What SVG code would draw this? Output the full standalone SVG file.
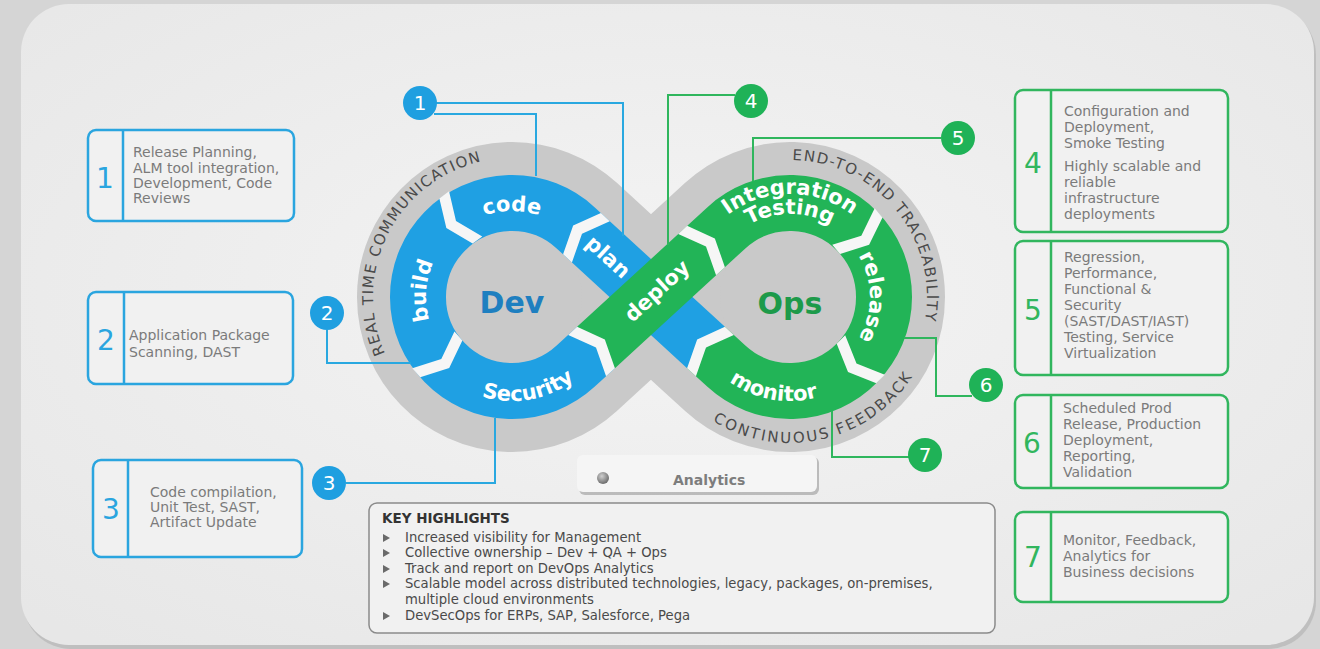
<svg xmlns="http://www.w3.org/2000/svg" width="1320" height="649" viewBox="0 0 1320 649">
<defs>
<style>
.bxb{fill:#f1f1f1;stroke:#2aa5df;stroke-width:2.5}
.bxg{fill:#f1f1f1;stroke:#31b65e;stroke-width:2.5}
.dvb{stroke:#2aa5df;stroke-width:2.5}
.dvg{stroke:#31b65e;stroke-width:2.5}
.nb{font-family:"DejaVu Sans",sans-serif;font-size:28px;fill:#2aa5df;text-anchor:middle}
.ng{font-family:"DejaVu Sans",sans-serif;font-size:28px;fill:#31b65e;text-anchor:middle}
.bt{font-family:"DejaVu Sans",sans-serif;font-size:14px;fill:#7b7b7b}
.bdb{fill:#1f9fe0}
.bdg{fill:#1fb257}
.bn{font-family:"DejaVu Sans",sans-serif;font-size:20px;fill:#fff;text-anchor:middle}
.cb{fill:none;stroke:#29a8e0;stroke-width:2}
.cg{fill:none;stroke:#2fb65d;stroke-width:2}
.rl{font-family:"DejaVu Sans",sans-serif;font-weight:bold;fill:#fff;font-size:21px;text-anchor:middle}
.ot{font-family:"DejaVu Sans",sans-serif;font-size:15px;fill:#4a4a4a}
.chev{fill:#f6f6f6}
.hl{font-family:"DejaVu Sans",sans-serif;font-size:13.2px;fill:#4a4a4a}
</style>
<radialGradient id="panel" cx="50%" cy="45%" r="70%">
<stop offset="0" stop-color="#f4f4f4"/><stop offset="1" stop-color="#e7e7e7"/>
</radialGradient>
<radialGradient id="ball" cx="40%" cy="35%" r="65%">
<stop offset="0" stop-color="#cfcfcf"/><stop offset="1" stop-color="#6d6d6d"/>
</radialGradient>
<path id="p-code" d="M446.1,241.7 A86,86 0 0 1 577.9,241.7"/>
<path id="p-build" d="M456.7,362.9 A86,86 0 0 1 456.7,231.1"/>
<path id="p-sec" d="M432.3,363.9 A104,104 0 0 0 609.7,332.6"/>
<path id="p-rtc" d="M385.0,353.5 A139,139 0 0 1 480.7,161.6"/>
<path id="p-int" d="M700.8,245.5 A103,103 0 0 1 879.2,245.5"/>
<path id="p-test" d="M718.1,255.5 A83,83 0 0 1 861.9,255.5"/>
<path id="p-rel" d="M841.4,235.7 A80,80 0 0 1 841.4,358.3"/>
<path id="p-mon" d="M692.3,332.6 A104,104 0 0 0 869.7,363.9"/>
<path id="p-e2e" d="M792.4,160 A137,137 0 0 1 924.9,320.8"/>
<path id="p-cf" d="M712.6,420.8 A146,146 0 0 0 912.4,376.5"/>
</defs>

<rect width="1320" height="649" fill="#d5d5d5"/>
<rect x="23" y="7" width="1293" height="642" rx="48" fill="#a9a9a9" opacity="0.5"/>
<rect x="21" y="4" width="1293" height="641" rx="48" fill="url(#panel)"/>

<g id="infinity">
<path d="M706,347.5 L575.6,227.8 A94,94 0 1 0 575.6,366.2 L726.4,227.8 A94,94 0 1 1 726.4,366.2 Z" fill="none" stroke="#c9c9c9" stroke-width="122" stroke-linejoin="round"/>
<circle cx="512" cy="297" r="70" fill="#c9c9c9"/>
<circle cx="790" cy="297" r="70" fill="#c9c9c9"/>
<path d="M706,347.5 L575.6,227.8 A94,94 0 1 0 575.6,366.2 L596,347.5" fill="none" stroke="#1fa0e3" stroke-width="56"/>
<path d="M596,347.5 L726.4,227.8 A94,94 0 1 1 726.4,366.2 L706,347.5" fill="none" stroke="#22b457" stroke-width="56"/>
<g id="chevrons">
<polygon class="chev" points="-12,-28 0,-28 12,0 0,28 -12,28 0,0" transform="translate(582,233.7) rotate(-137.5)"/>
<polygon class="chev" points="-12,-28 0,-28 12,0 0,28 -12,28 0,0" transform="translate(456,221) rotate(143.6)"/>
<polygon class="chev" points="-12,-28 0,-28 12,0 0,28 -12,28 0,0" transform="translate(441.3,358.9) rotate(48.8)"/>
<polygon class="chev" points="-12,-28 0,-28 12,0 0,28 -12,28 0,0" transform="translate(596,347.5) rotate(-42.5)"/>
<polygon class="chev" points="-12,-28 0,-28 12,0 0,28 -12,28 0,0" transform="translate(706,246.5) rotate(-42.5)"/>
<polygon class="chev" points="-12,-28 0,-28 12,0 0,28 -12,28 0,0" transform="translate(861.3,235.7) rotate(49.3)"/>
<polygon class="chev" points="-12,-28 0,-28 12,0 0,28 -12,28 0,0" transform="translate(856.5,363.5) rotate(135)"/>
<polygon class="chev" points="-12,-28 0,-28 12,0 0,28 -12,28 0,0" transform="translate(706,347.5) rotate(-137.5)"/>
</g>
<text class="rl" font-size="22"><textPath href="#p-code" startOffset="50%">code</textPath></text>
<text class="rl"><textPath href="#p-build" startOffset="54%">build</textPath></text>
<text class="rl"><textPath href="#p-sec" startOffset="50%">Security</textPath></text>
<text class="rl" transform="translate(608,257) rotate(42.5)" x="0" y="7" font-size="22">plan</text>
<text class="rl" transform="translate(657,291) rotate(-42.5)" x="0" y="7" fill="#bfe9cc">deploy</text>
<text class="rl" font-size="16"><textPath href="#p-int" startOffset="50%">Integration</textPath></text>
<text class="rl" font-size="16"><textPath href="#p-test" startOffset="50%">Testing</textPath></text>
<text class="rl"><textPath href="#p-rel" startOffset="50%">release</textPath></text>
<text class="rl"><textPath href="#p-mon" startOffset="50%">monitor</textPath></text>
<text class="ot"><textPath href="#p-rtc" textLength="245" lengthAdjust="spacing">REAL TIME COMMUNICATION</textPath></text>
<text class="ot"><textPath href="#p-e2e" textLength="236" lengthAdjust="spacing">END-TO-END TRACEABILITY</textPath></text>
<text class="ot"><textPath href="#p-cf" textLength="226" lengthAdjust="spacing">CONTINUOUS FEEDBACK</textPath></text>
<text x="512" y="313" font-family="DejaVu Sans,sans-serif" font-weight="bold" font-size="30" fill="#1e7fc0" text-anchor="middle">Dev</text>
<text x="790" y="314" font-family="DejaVu Sans,sans-serif" font-weight="bold" font-size="30" fill="#1d9a4a" text-anchor="middle">Ops</text>
</g>

<g id="connectors">
<polyline class="cb" points="436,103 623,103 623,236"/>
<polyline class="cb" points="434,114 536,114 536,176"/>
<polyline class="cb" points="327,330 327,363 411,363"/>
<polyline class="cb" points="346,483 495,483 495,418"/>
<polyline class="cg" points="735,95 668,95 668,245"/>
<polyline class="cg" points="941,138 753,138 753,181"/>
<polyline class="cg" points="904,338 936,338 936,396 972,396"/>
<polyline class="cg" points="832,411 832,457 909,457"/>
</g>

<g id="badge1"><circle class="bdb" cx="420" cy="103" r="17"/><text class="bn" x="420" y="110">1</text></g>
<g id="badge2"><circle class="bdb" cx="327" cy="313" r="17"/><text class="bn" x="327" y="320">2</text></g>
<g id="badge3"><circle class="bdb" cx="329" cy="483" r="17"/><text class="bn" x="329" y="490">3</text></g>
<g id="badge4"><circle class="bdg" cx="751" cy="101" r="17"/><text class="bn" x="751" y="108">4</text></g>
<g id="badge5"><circle class="bdg" cx="958" cy="138" r="17"/><text class="bn" x="958" y="145">5</text></g>
<g id="badge6"><circle class="bdg" cx="986" cy="385" r="17"/><text class="bn" x="986" y="392">6</text></g>
<g id="badge7"><circle class="bdg" cx="925" cy="455" r="17"/><text class="bn" x="925" y="462">7</text></g>

<g id="box1">
<rect class="bxb" x="88" y="130" width="206" height="91" rx="8"/>
<line class="dvb" x1="123" y1="131" x2="123" y2="220"/>
<text class="nb" x="105" y="188">1</text>
<text class="bt" x="133" y="157">Release Planning,</text>
<text class="bt" x="133" y="173">ALM tool integration,</text>
<text class="bt" x="133" y="188">Development, Code</text>
<text class="bt" x="133" y="203">Reviews</text>
</g>
<g id="box2">
<rect class="bxb" x="88" y="292" width="205" height="92" rx="8"/>
<line class="dvb" x1="124" y1="293" x2="124" y2="383"/>
<text class="nb" x="106" y="350">2</text>
<text class="bt" x="129" y="340">Application Package</text>
<text class="bt" x="129" y="357">Scanning, DAST</text>
</g>
<g id="box3">
<rect class="bxb" x="93" y="460" width="209" height="97" rx="8"/>
<line class="dvb" x1="128" y1="461" x2="128" y2="556"/>
<text class="nb" x="111" y="519">3</text>
<text class="bt" x="150" y="497">Code compilation,</text>
<text class="bt" x="150" y="512">Unit Test, SAST,</text>
<text class="bt" x="150" y="527">Artifact Update</text>
</g>
<g id="box4">
<rect class="bxg" x="1015" y="90" width="213" height="142" rx="8"/>
<line class="dvg" x1="1051" y1="91" x2="1051" y2="231"/>
<text class="ng" x="1033" y="173">4</text>
<text class="bt" x="1064" y="116">Configuration and</text>
<text class="bt" x="1064" y="132">Deployment,</text>
<text class="bt" x="1064" y="148">Smoke Testing</text>
<text class="bt" x="1064" y="171">Highly scalable and</text>
<text class="bt" x="1064" y="187">reliable</text>
<text class="bt" x="1064" y="203">infrastructure</text>
<text class="bt" x="1064" y="219">deployments</text>
</g>
<g id="box5">
<rect class="bxg" x="1015" y="241" width="213" height="134" rx="8"/>
<line class="dvg" x1="1051" y1="242" x2="1051" y2="374"/>
<text class="ng" x="1033" y="320">5</text>
<text class="bt" x="1064" y="262">Regression,</text>
<text class="bt" x="1064" y="278">Performance,</text>
<text class="bt" x="1064" y="294">Functional &amp;</text>
<text class="bt" x="1064" y="310">Security</text>
<text class="bt" x="1064" y="326">(SAST/DAST/IAST)</text>
<text class="bt" x="1064" y="342">Testing, Service</text>
<text class="bt" x="1064" y="358">Virtualization</text>
</g>
<g id="box6">
<rect class="bxg" x="1015" y="395" width="213" height="93" rx="8"/>
<line class="dvg" x1="1051" y1="396" x2="1051" y2="487"/>
<text class="ng" x="1032" y="453">6</text>
<text class="bt" x="1063" y="413">Scheduled Prod</text>
<text class="bt" x="1063" y="429">Release, Production</text>
<text class="bt" x="1063" y="445">Deployment,</text>
<text class="bt" x="1063" y="461">Reporting,</text>
<text class="bt" x="1063" y="477">Validation</text>
</g>
<g id="box7">
<rect class="bxg" x="1015" y="512" width="213" height="90" rx="8"/>
<line class="dvg" x1="1051" y1="513" x2="1051" y2="601"/>
<text class="ng" x="1033" y="567">7</text>
<text class="bt" x="1063" y="545">Monitor, Feedback,</text>
<text class="bt" x="1063" y="561">Analytics for</text>
<text class="bt" x="1063" y="577">Business decisions</text>
</g>

<g id="analytics">
<rect x="579" y="457" width="240" height="38" rx="6" fill="#9a9a9a" opacity="0.6"/>
<rect x="577" y="455" width="240" height="37" rx="6" fill="#f5f5f5"/>
<circle cx="603" cy="478" r="6" fill="url(#ball)"/>
<text x="673" y="485" font-family="DejaVu Sans,sans-serif" font-weight="bold" font-size="14" fill="#7d7d7d">Analytics</text>
</g>

<g id="highlights">
<rect x="369" y="503" width="626" height="130" rx="8" fill="#f1f1f1" stroke="#8a8a8a" stroke-width="1.5"/>
<text x="382" y="523" font-family="DejaVu Sans,sans-serif" font-weight="bold" font-size="13.5" fill="#333">KEY HIGHLIGHTS</text>
<g fill="#6a6a6a">
<polygon points="383,534 390,538 383,542"/>
<polygon points="383,549 390,553 383,557"/>
<polygon points="383,565 390,569 383,573"/>
<polygon points="383,580 390,584 383,588"/>
<polygon points="383,612 390,616 383,620"/>
</g>
<text class="hl" x="405" y="542">Increased visibility for Management</text>
<text class="hl" x="405" y="557">Collective ownership – Dev + QA + Ops</text>
<text class="hl" x="405" y="573">Track and report on DevOps Analytics</text>
<text class="hl" x="405" y="588">Scalable model across distributed technologies, legacy, packages, on-premises,</text>
<text class="hl" x="405" y="604">multiple cloud environments</text>
<text class="hl" x="405" y="620">DevSecOps for ERPs, SAP, Salesforce, Pega</text>
</g>
</svg>
